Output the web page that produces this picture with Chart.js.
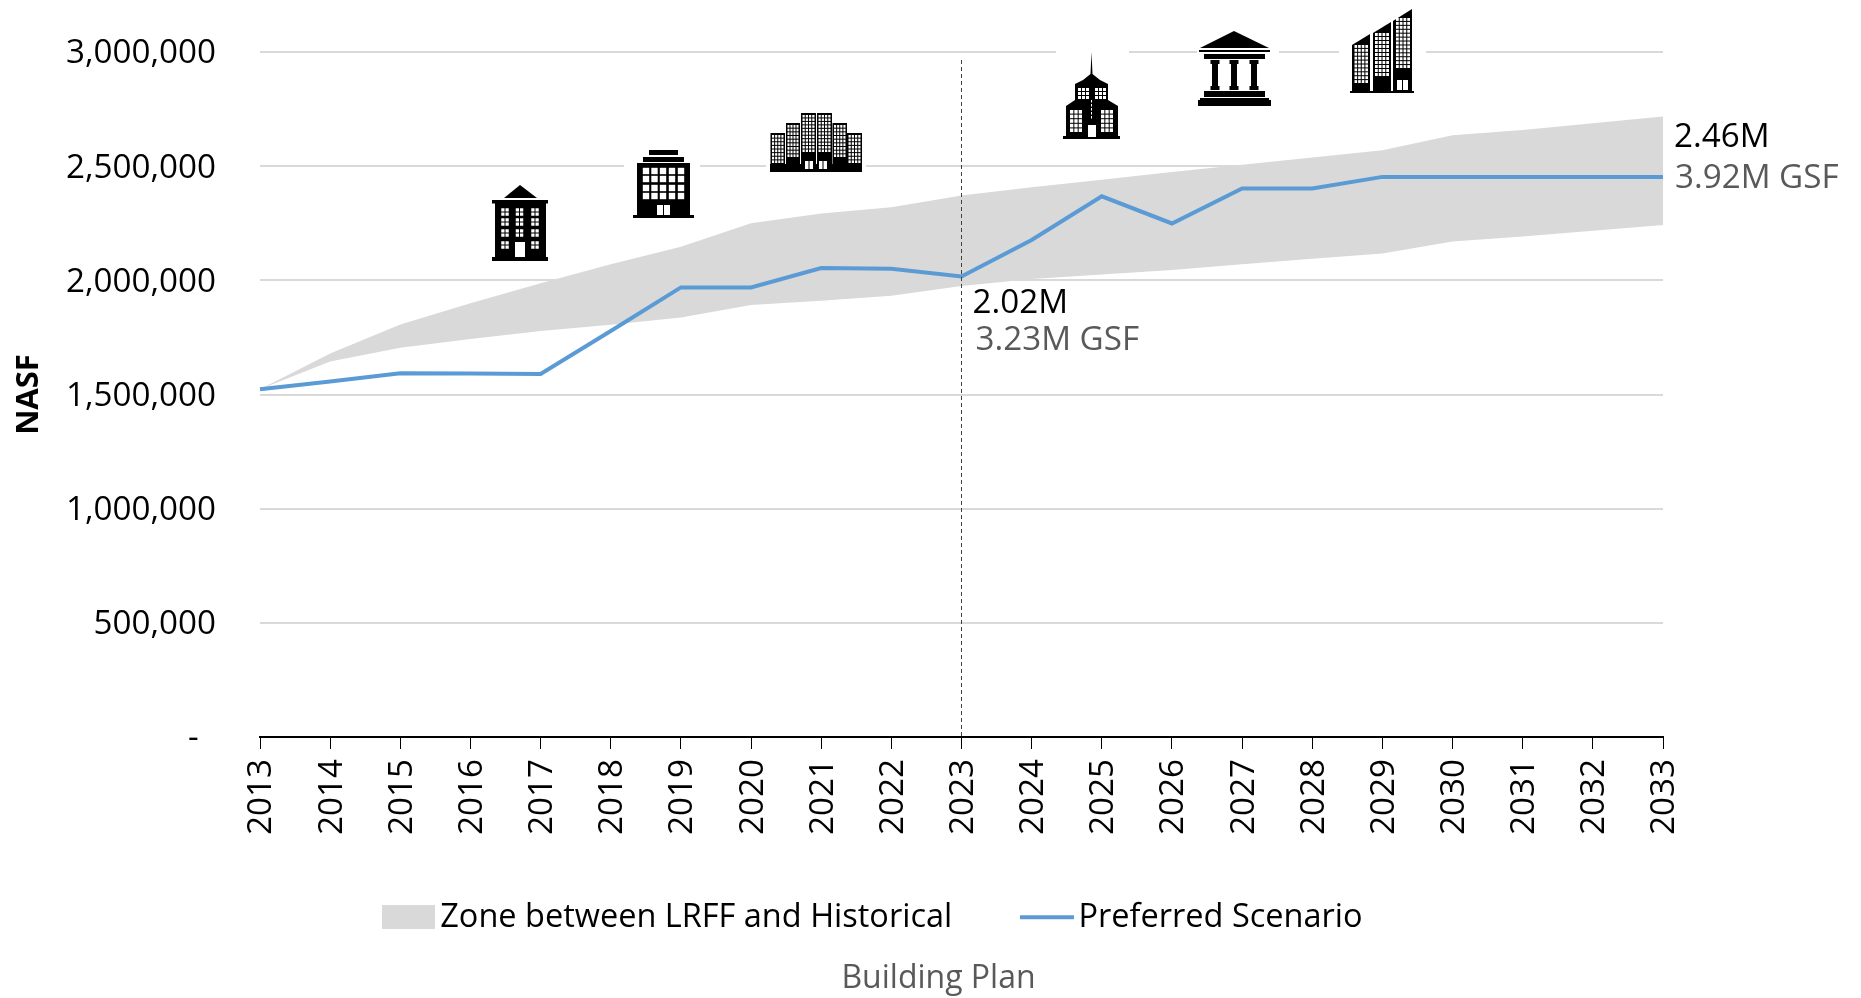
<!DOCTYPE html>
<html><head><meta charset="utf-8">
<style>html,body{margin:0;padding:0;background:#fff}canvas{display:block}</style>
<script src="https://cdn.jsdelivr.net/npm/chart.js@4"></script>
</head><body><canvas id="c" width="1861" height="998"></canvas>
<script>
const years=['2013','2014','2015','2016','2017','2018','2019','2020','2021','2022','2023','2024','2025','2026','2027','2028','2029','2030','2031','2032','2033'];
const zoneUpper=[1523000,1680000,1807000,1900000,1987000,2070000,2147000,2250000,2293000,2320000,2371000,2408000,2441000,2474000,2506000,2538000,2570000,2635000,2658000,2688000,2717000];
const zoneLower=[1523000,1644000,1705000,1743000,1778000,1805000,1837000,1892000,1911000,1932000,1975000,2006000,2026000,2045000,2070000,2094000,2117000,2170000,2192000,2217000,2242000];
const preferred=[1523000,1557000,1593000,1592000,1590000,1778000,1969000,1969000,2054000,2051000,2017000,2177000,2368000,2249000,2402000,2402000,2453000,2453000,2453000,2453000,2453000];
const yTicks=[0,500000,1000000,1500000,2000000,2500000,3000000];
const zoneName='Zone between LRFF and Historical';
const lineName='Preferred Scenario';
const xTitle='NASF';
const planTitle='Building Plan';
const markerYear='2023';
const notes=[
 {year:'2023',dx:11,dy:304,text:'2.02M',color:'#000'},
 {year:'2023',dx:14,dy:341,text:'3.23M GSF',color:'#595959'},
 {year:'2033',dx:11,dy:138,text:'2.46M',color:'#000'},
 {year:'2033',dx:12,dy:179,text:'3.92M GSF',color:'#595959'}
];
const FONT='"Open Sans"';
const GREY='#D9D9D9', BLUE='#5B9BD5';

function swatch(w,h,draw){const c=document.createElement('canvas');c.width=w;c.height=h;draw(c.getContext('2d'),w,h);return c;}
const zoneSwatch=swatch(53,24,(g,w,h)=>{g.fillStyle=GREY;g.fillRect(0,0,w,h);});
const lineSwatch=swatch(54,24,(g,w,h)=>{g.fillStyle=BLUE;g.fillRect(0,h/2-2,w,4);});

/* decorative building pictograms */
function R(g,x,y,w,h,c){g.fillStyle=c||'#000';g.fillRect(x,y,w,h);}
function P(g,pts,c){g.fillStyle=c||'#000';g.beginPath();pts.forEach((p,i)=>i?g.lineTo(p[0],p[1]):g.moveTo(p[0],p[1]));g.closePath();g.fill();}
function grid(g,x0,y0,x1,y1,cols,rows,gap){const cw=(x1-x0+gap)/cols,ch=(y1-y0+gap)/rows;for(let i=0;i<cols;i++)for(let j=0;j<rows;j++)R(g,x0+i*cw,y0+j*ch,cw-gap,ch-gap,'#fff');}
function pane(g,cx,cy,s){grid(g,cx-s/2,cy-s/2,cx+s/2,cy+s/2,2,2,1);}
const icons=[
 {x:492,y:185,draw(g){P(g,[[28,0],[45,13],[12,13]]);R(g,0,15,56,3.5);R(g,3,18,51,55);R(g,0,72,56,4);
   [13,27.5,43].forEach(x=>[27,37,48,60].forEach(y=>{if(!(x===27.5&&y===60))pane(g,x,y,7.5);}));R(g,23,57,10,15,'#fff');}},
 {x:633,y:150,draw(g){R(g,16,0,29,5);R(g,10,7,41,5);R(g,4,13,53,52);R(g,0,65,61,3);
   [13,21.5,30,39,48].forEach(x=>[21,29,38,46].forEach(y=>R(g,x-3.2,y-3.2,6.4,6.4,'#fff')));R(g,24,55,13,10,'#fff');R(g,30,55,1,10);}},
 {x:770,y:112,draw(g){const t=[[0.5,15,21,51],[16,30,11,45],[31,46,1,40],[47,62,1,40],[62.5,77,11,45],[77,92,21,51]];
   t.forEach(a=>{R(g,a[0],a[2],a[1]-a[0],58-a[2]);grid(g,a[0]+1.5,a[2]+2,a[1]-1.5,a[3],4,Math.round((a[3]-a[2])/3.6),1);});
   R(g,0,52,92,6);R(g,0,56,92,4);R(g,35,49,8,8,'#fff');R(g,49,49,8,8,'#fff');R(g,38.5,49,1,8);R(g,52.5,49,1,8);}},
 {x:1063,y:52,draw(g){P(g,[[27.5,22],[28.5,0],[29.5,22],[37,28],[45,32],[45,48],[55,54],[55,85],[3,85],[3,54],[12,48],[12,32],[20,28]]);R(g,0,84,57,3);
   grid(g,15,36,26,47,3,3,1);grid(g,32,36,43,47,3,3,1);grid(g,7,58,19,80,3,5,1);grid(g,38,58,50,80,3,5,1);
   for(let y=48;y<68;y+=4)R(g,28,y,1,2.5,'#fff');R(g,25,73,8,12,'#fff');}},
 {x:1198,y:31,draw(g){P(g,[[36,0],[71,17],[2,17]]);R(g,1,19,71,2);R(g,6,23,61,5);
   [17,36,56].forEach(x=>{R(g,x-4.5,29,9,4);R(g,x-3,33,6,23);R(g,x-4.5,55,9,4);});R(g,6,60,61,6);R(g,2,67,69,2);R(g,0,69,73,6);}},
 {x:1350,y:9,draw(g){P(g,[[2,36],[20,25],[20,82],[2,82]]);P(g,[[23,24],[41,13],[41,82],[23,82]]);P(g,[[43,12],[62,0],[62,82],[43,82]]);R(g,0,82,64,2);
   grid(g,4.5,36,18,74,4,10,1);grid(g,25,24,39,67,4,11,1);grid(g,46,9,60,59,4,13,1);R(g,47,71,11,10,'#fff');R(g,52,71,1,10);}}
];
const gaps=[[624,140,76,40],[766,130,100,40],[1056,30,73,40],[1197,30,82,40],[1339,30,87,40]];
const PLOT_TOP=52, PLOT_BOTTOM=737;

const decorations={id:'decorations',
 beforeDatasetsDraw(chart){const g=chart.ctx;g.save();g.fillStyle='#fff';gaps.forEach(b=>g.fillRect(b[0],b[1],b[2],b[3]));g.restore();},
 afterDatasetsDraw(chart){const g=chart.ctx,x=chart.scales.x,y=chart.scales.y;g.save();
   const mx=Math.round(x.getPixelForValue(years.indexOf(markerYear)))-0.5;
   g.strokeStyle='#404040';g.lineWidth=1;g.setLineDash([4,3]);g.beginPath();g.moveTo(mx,y.getPixelForValue(2965000));g.lineTo(mx,y.getPixelForValue(0));g.stroke();g.setLineDash([]);
   icons.forEach(ic=>{g.save();g.translate(ic.x,ic.y);ic.draw(g);g.restore();});
   g.font='33.2px '+FONT;g.textBaseline='middle';g.textAlign='left';
   notes.forEach(n=>{g.fillStyle=n.color;g.fillText(n.text,x.getPixelForValue(years.indexOf(n.year))+n.dx,n.dy);});
   g.restore();},
 afterLayout(chart){const L=chart.legend,T=chart.titleBlock,x=chart.scales.x,y=chart.scales.y,A=chart.chartArea;
   L.left=314;L.right=1861;L.top=902-80;L.bottom=998;
   T.left=16;T.right=1861;
   y.top=PLOT_TOP;y.bottom=PLOT_BOTTOM;y.height=PLOT_BOTTOM-PLOT_TOP;y.configure();
   x.bottom=PLOT_BOTTOM+x.height;x.top=PLOT_BOTTOM;x.configure();
   A.top=PLOT_TOP;A.bottom=PLOT_BOTTOM;A.height=PLOT_BOTTOM-PLOT_TOP;}
};

new Chart(document.getElementById('c'),{
 type:'line',
 plugins:[decorations],
 data:{labels:years,datasets:[
  {label:lineName,data:preferred,borderColor:BLUE,borderWidth:4,pointRadius:0,tension:0,fill:false,order:0,borderJoinStyle:'miter'},
  {label:zoneName,data:zoneUpper,borderWidth:0,borderColor:GREY,backgroundColor:GREY,pointRadius:0,tension:0,fill:'+1',order:1},
  {label:'lower',data:zoneLower,borderWidth:0,borderColor:GREY,pointRadius:0,tension:0,fill:false,order:2}
 ]},
 options:{
  responsive:false,animation:false,
  layout:{padding:{top:42,right:198,left:0,bottom:0}},
  plugins:{
   tooltip:{enabled:false},
   legend:{display:true,position:'bottom',align:'start',
    labels:{usePointStyle:true,pointStyleWidth:31,boxHeight:24,padding:79,color:'#000',font:{family:FONT,size:32.5},
     generateLabels:()=>[
      {text:zoneName,pointStyle:zoneSwatch,fillStyle:GREY,strokeStyle:GREY,lineWidth:0,datasetIndex:1,fontColor:'#000'},
      {text:lineName,pointStyle:lineSwatch,fillStyle:BLUE,strokeStyle:BLUE,lineWidth:0,datasetIndex:0,fontColor:'#000'}
     ]}},
   title:{display:true,position:'bottom',text:planTitle,color:'#595959',font:{family:FONT,size:32,weight:'normal'},padding:{top:0,bottom:0}}
  },
  scales:{
   x:{offset:false,
    afterFit(s){const c=s.chart;s.height=261-(c.legend?c.legend.height:0)-(c.titleBlock?c.titleBlock.height:0);},
    grid:{drawOnChartArea:false,drawTicks:true,tickLength:12,tickColor:'#000',tickWidth:1},
    border:{display:true,color:'#000',width:2},
    ticks:{autoSkip:false,minRotation:90,maxRotation:90,padding:10,labelOffset:2,color:'#000',font:{family:FONT,size:33.2}}},
   y:{min:0,max:3000000,
    afterFit(s){s.width=260;},
    afterBuildTicks(s){s.ticks=yTicks.map(v=>({value:v}));},
    grid:{color:(c)=>c.tick&&c.tick.value===0?'rgba(0,0,0,0)':GREY,lineWidth:2,drawTicks:false},
    border:{display:false},
    title:{display:true,text:xTitle,color:'#000',font:{family:FONT,size:31,weight:'bold'},padding:{top:11,bottom:0}},
    ticks:{padding:44,labelOffset:2,color:'#000',font:{family:FONT,size:33.2},
     callback:v=>v===0?'-  ':Number(v).toLocaleString('en-US')}}
  }
 }
});
</script></body></html>
